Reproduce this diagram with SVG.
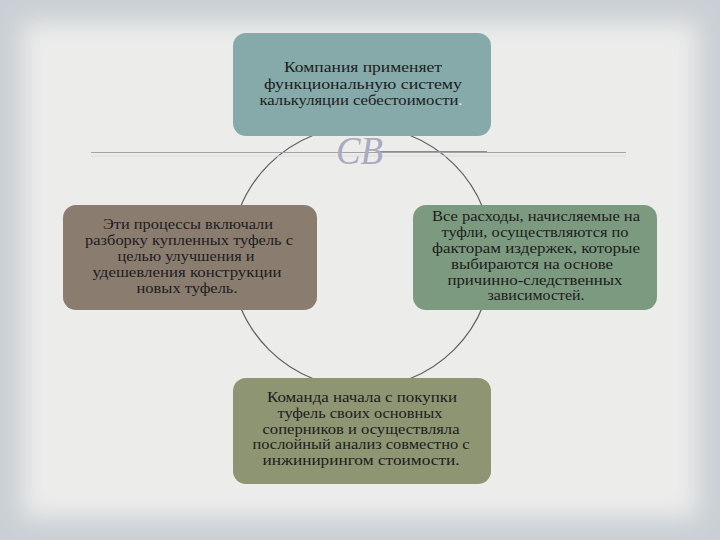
<svg xmlns="http://www.w3.org/2000/svg" width="720" height="540" viewBox="0 0 720 540">
<defs>
<filter id="blur" x="-10%" y="-10%" width="120%" height="120%"><feGaussianBlur stdDeviation="12"/></filter>
<style>
.t{font-family:"Liberation Serif","DejaVu Serif",serif;font-size:14px;fill:#1c1c1c;text-anchor:middle}
.box{stroke:none}
</style>
</defs>
<rect width="720" height="540" fill="#c9cfd4"/>
<rect x="22" y="22" width="676" height="496" fill="#ececeb" filter="url(#blur)"/>
<g id="connectors">
<circle cx="361.5" cy="257" r="131" fill="none" stroke="#5e5e5e" stroke-width="1.2"/>
<line x1="91" y1="152.5" x2="626" y2="152.5" stroke="#a3a3a3" stroke-width="1"/>
<line x1="91" y1="156" x2="626" y2="156" stroke="#dcdcdc" stroke-width="1"/>
<line x1="380" y1="151.5" x2="487" y2="151.5" stroke="#8c8c8c" stroke-width="1.2"/>
<text x="336" y="164" font-family="Liberation Serif, serif" font-style="italic" font-size="40" fill="#a9aabf" textLength="47" lengthAdjust="spacingAndGlyphs">CB</text>
</g>
<g id="top">
<rect class="box" x="233" y="33" width="258" height="103" rx="13" fill="#86aaa9"/>
<text class="t" x="363" y="72" textLength="158" lengthAdjust="spacingAndGlyphs">Компания применяет</text>
<text class="t" x="363" y="89" textLength="198" lengthAdjust="spacingAndGlyphs">функциональную систему</text>
<text class="t" x="361" y="105" textLength="203" lengthAdjust="spacingAndGlyphs">калькуляции себестоимости<tspan fill="#eef2f2">.</tspan></text>
</g>
<g id="left">
<rect class="box" x="63" y="205" width="254" height="105" rx="13" fill="#8b7c70"/>
<text class="t" x="188" y="229" textLength="170" lengthAdjust="spacingAndGlyphs">Эти процессы включали</text>
<text class="t" x="189" y="245" textLength="208" lengthAdjust="spacingAndGlyphs">разборку купленных туфель с</text>
<text class="t" x="186" y="261" textLength="137" lengthAdjust="spacingAndGlyphs">целью улучшения и</text>
<text class="t" x="187" y="277" textLength="189" lengthAdjust="spacingAndGlyphs">удешевления конструкции</text>
<text class="t" x="187" y="293" textLength="101" lengthAdjust="spacingAndGlyphs">новых туфель.</text>
</g>
<g id="right">
<rect class="box" x="413" y="205" width="244" height="105" rx="13" fill="#7c9a80"/>
<text class="t" x="536" y="221" textLength="208" lengthAdjust="spacingAndGlyphs">Все расходы, начисляемые на</text>
<text class="t" x="535" y="237" textLength="187" lengthAdjust="spacingAndGlyphs">туфли, осуществляются по</text>
<text class="t" x="536" y="253" textLength="208" lengthAdjust="spacingAndGlyphs">факторам издержек, которые</text>
<text class="t" x="532" y="269" textLength="162" lengthAdjust="spacingAndGlyphs">выбираются на основе</text>
<text class="t" x="535" y="285" textLength="175" lengthAdjust="spacingAndGlyphs">причинно-следственных</text>
<text class="t" x="536" y="300" textLength="97" lengthAdjust="spacingAndGlyphs">зависимостей.</text>
</g>
<g id="bottom">
<rect class="box" x="233" y="378" width="258" height="106" rx="13" fill="#8e9573"/>
<text class="t" x="362" y="402" textLength="190" lengthAdjust="spacingAndGlyphs">Команда начала с покупки</text>
<text class="t" x="360" y="418" textLength="165" lengthAdjust="spacingAndGlyphs">туфель своих основных</text>
<text class="t" x="361" y="434" textLength="197" lengthAdjust="spacingAndGlyphs">соперников и осуществляла</text>
<text class="t" x="361" y="449" textLength="217" lengthAdjust="spacingAndGlyphs">послойный анализ совместно с</text>
<text class="t" x="361" y="465" textLength="197" lengthAdjust="spacingAndGlyphs">инжинирингом стоимости.</text>
</g>
</svg>
